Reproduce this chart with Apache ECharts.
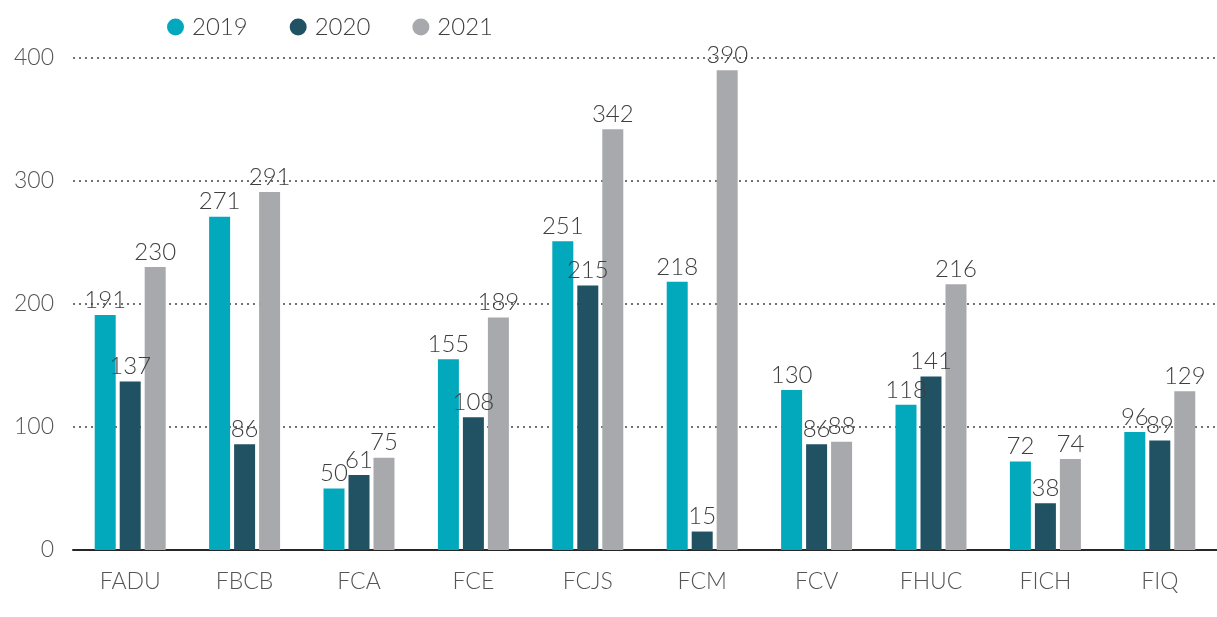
<!DOCTYPE html>
<html>
<head>
<meta charset="utf-8">
<script src="https://cdn.jsdelivr.net/npm/echarts@6/dist/echarts.min.js"></script>
<style>
  html, body { margin: 0; padding: 0; background: #fff; }
  #chart { width: 1217px; height: 617px; }
</style>
</head>
<body>
<div id="chart"></div>
<script>
const categories = ['FADU', 'FBCB', 'FCA', 'FCE', 'FCJS', 'FCM', 'FCV', 'FHUC', 'FICH', 'FIQ'];
const years = ['2019', '2020', '2021'];
const values2019 = [191, 271, 50, 155, 251, 218, 130, 118, 72, 96];
const values2020 = [137, 86, 61, 108, 215, 15, 86, 141, 38, 89];
const values2021 = [230, 291, 75, 189, 342, 390, 88, 216, 74, 129];
const colors = ['#02A9BD', '#215263', '#A8A9AD'];

const font = 'Lato, "Open Sans", sans-serif';

const chart = echarts.init(document.getElementById('chart'));

const makeSeries = (name, data, color) => ({
  name: name,
  type: 'bar',
  data: data,
  barWidth: 21,
  barGap: '19%',
  itemStyle: { color: color },
  label: {
    show: true,
    position: 'top',
    distance: 3,
    color: '#3f3f3f',
    fontSize: 24,
    fontFamily: font,
    fontWeight: 300
  }
});

chart.setOption({
  backgroundColor: '#fff',
  animation: false,
  color: colors,
  legend: {
    data: years,
    left: 162,
    top: 10,
    icon: 'circle',
    itemWidth: 17,
    itemHeight: 17,
    itemGap: 42,
    textStyle: { color: '#3f3f3f', fontSize: 24, fontFamily: font, fontWeight: 300, padding: [0, 0, 0, 3] }
  },
  grid: { left: 73, right: -14, top: 58, bottom: 67, containLabel: false },
  xAxis: {
    type: 'category',
    data: categories,
    axisLine: { lineStyle: { color: '#262626', width: 2 } },
    axisTick: { show: false },
    axisLabel: { color: '#555', fontSize: 23, fontFamily: font, fontWeight: 300, margin: 20 }
  },
  yAxis: {
    type: 'value',
    min: 0,
    max: 400,
    interval: 100,
    axisLine: { show: false },
    axisTick: { show: false },
    axisLabel: { color: '#555', fontSize: 23, fontFamily: font, fontWeight: 300, margin: 19 },
    splitLine: { lineStyle: { type: [2, 4], color: '#444', width: 1.5 } }
  },
  series: [
    makeSeries(years[0], values2019, colors[0]),
    makeSeries(years[1], values2020, colors[1]),
    makeSeries(years[2], values2021, colors[2])
  ]
});
</script>
</body>
</html>
